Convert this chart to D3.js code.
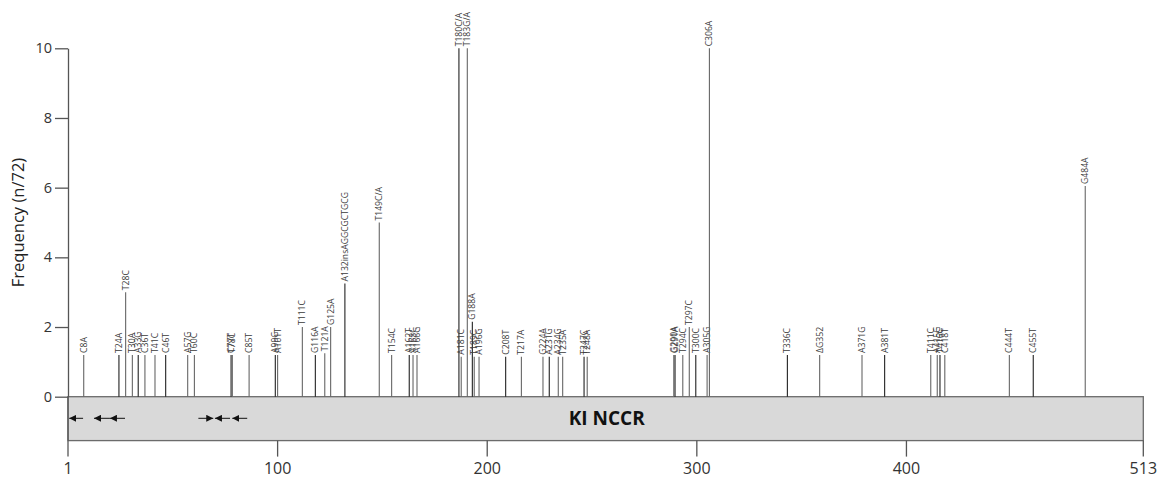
<!DOCTYPE html>
<html>
<head>
<meta charset="utf-8">
<script src="https://cdn.jsdelivr.net/npm/d3@7"></script>
<style>
  body { margin: 0; background: #fff; }
  text { font-family: "Open Sans", sans-serif; }
</style>
</head>
<body>
<div id="chart"></div>
<script>
// mutation labels, their position along the NCCR (as drawn) and frequency
const mutationLabels = ["C8A", "T24A", "T28C", "T30A", "A33G", "C36T", "T41C", "C46T", "A57G", "T60C",
  "C77T", "T78C", "C85T", "A99G", "A101T", "T111C", "G116A", "T121A", "G125A", "A132insAGGCGCTGCG",
  "T149C/A", "T154C", "A162T", "A163C", "A166G", "T180C/A", "A181C", "T183G/A", "G188A", "T189C",
  "A196G", "C208T", "T217A", "G224A", "A231G", "A234G", "T235A", "T247C", "T248A", "G290A",
  "G291A", "T294C", "T297C", "T300C", "A305G", "C306A", "T336C", "\u0394G352", "A371G", "A381T",
  "T411C", "A415G", "T416C", "C418T", "C444T", "C455T", "G484A"];
const mutationPositions = [7.5, 24.3, 27.5, 30.7, 33.5, 36.7, 41.5, 46.6, 57.1, 60.3,
  77.8, 78.4, 86.4, 98.9, 100, 111.8, 118, 122.5, 125.3, 132.1,
  148.5, 154.4, 162.8, 164.6, 166.5, 186.5, 187.6, 190.5, 192.9, 193.8,
  196.1, 208.8, 216.3, 226.6, 229.6, 233.9, 236, 246.2, 247.7, 289,
  289.6, 293.3, 296.4, 299.5, 304.9, 306, 343.2, 358.6, 378.8, 389.6,
  411.6, 414.7, 416, 418.3, 449.1, 460.5, 485.3];
const frequencies = [1.2, 1.2, 3, 1.2, 1.2, 1.2, 1.2, 1.2, 1.2, 1.2,
  1.2, 1.2, 1.2, 1.2, 1.2, 2, 1.2, 1.25, 2, 3.25,
  5, 1.2, 1.2, 1.2, 1.2, 10, 1.15, 10, 2.15, 1.15,
  1.15, 1.15, 1.15, 1.15, 1.15, 1.15, 1.15, 1.15, 1.15, 1.2,
  1.2, 1.2, 2, 1.2, 1.2, 10, 1.2, 1.2, 1.2, 1.2,
  1.2, 1.2, 1.2, 1.2, 1.2, 1.2, 6.05];

// arrows inside the NCCR box (from tail to head)
const arrowFrom = [7.2, 20, 27.2, 62.2, 77.3, 85.5];
const arrowTo = [0.6, 12.4, 20, 69.3, 70.1, 78.4];

const xTicks = [1, 100, 200, 300, 400, 513];
const yTicks = [0, 2, 4, 6, 8, 10];
const boxLabel = "KI NCCR";
const yTitle = "Frequency (n/72)";

const margin = { top: 48.3, right: 19.7, bottom: 38.3, left: 68 },
      width = 1163 - margin.left - margin.right,
      height = 479 - margin.top - margin.bottom;

const svg = d3.select("#chart")
  .append("svg")
  .attr("width", 1163)
  .attr("height", 479)
  .append("g")
  .attr("transform", `translate(${margin.left},${margin.top})`);

const x = d3.scaleLinear().domain([0, 513]).range([0, width]);
const y = d3.scaleLinear().domain([0, 10]).range([348.4, 0]);
const boxBottom = -1.26;

svg.append("defs").append("marker")
  .attr("id", "head")
  .attr("viewBox", "0 0 10 10")
  .attr("refX", 10)
  .attr("refY", 5)
  .attr("markerWidth", 7)
  .attr("markerHeight", 7)
  .attr("markerUnits", "userSpaceOnUse")
  .attr("orient", "auto")
  .append("path")
  .attr("d", "M0,0L10,5L0,10Z")
  .attr("fill", "#111");

// grey NCCR box
svg.append("rect")
  .attr("x", x(0))
  .attr("y", y(0))
  .attr("width", x(513) - x(0))
  .attr("height", y(boxBottom) - y(0))
  .attr("fill", "#d9d9d9")
  .attr("stroke", "#6b6b6b")
  .attr("stroke-width", 1.3);

svg.append("text")
  .attr("x", x(257))
  .attr("y", y(boxBottom / 2))
  .attr("dy", "0.36em")
  .attr("text-anchor", "middle")
  .attr("font-size", 19)
  .attr("font-weight", "bold")
  .attr("fill", "#111")
  .text(boxLabel);

arrowFrom.forEach((a, i) => {
  svg.append("line")
    .attr("x1", x(a))
    .attr("x2", x(arrowTo[i]))
    .attr("y1", y(-0.62))
    .attr("y2", y(-0.62))
    .attr("stroke", "#111")
    .attr("stroke-width", 1)
    .attr("marker-end", "url(#head)");
});

// mutation lines
const bars = svg.selectAll(".mut")
  .data(mutationLabels.map((d, i) => ({ label: d, pos: mutationPositions[i], f: frequencies[i] })))
  .enter().append("g")
  .attr("class", "mut");

bars.append("line")
  .attr("x1", d => x(d.pos))
  .attr("x2", d => x(d.pos))
  .attr("y1", y(0))
  .attr("y2", d => y(d.f))
  .attr("stroke", (d, i) => i % 3 === 1 ? "#222" : "#666")
  .attr("stroke-width", 1.1);

bars.append("text")
  .attr("transform", d => `translate(${x(d.pos)},${y(d.f) - 2}) rotate(-90)`)
  .attr("dy", "0.35em")
  .attr("font-family", "'DejaVu Sans Condensed', 'DejaVu Sans', sans-serif")
  .attr("font-size", 8.6)
  .attr("fill", "#3a3a3a")
  .text(d => d.label);

// y axis
const yAxis = svg.append("g")
  .call(d3.axisLeft(y).tickValues(yTicks).tickSize(13).tickPadding(3).tickSizeOuter(0));
yAxis.select(".domain").attr("stroke", "#555").attr("stroke-width", 1.3);
yAxis.selectAll(".tick line").attr("stroke", "#555").attr("stroke-width", 1.3);
yAxis.selectAll(".tick text")
  .attr("font-family", "'Open Sans', sans-serif")
  .attr("font-size", 14.5)
  .attr("fill", "#333");

// left border line continues down as the "1" tick
svg.append("line")
  .attr("x1", x(0)).attr("x2", x(0))
  .attr("y1", y(0)).attr("y2", y(boxBottom))
  .attr("stroke", "#555").attr("stroke-width", 1.3);

// x axis under the box
const xAxis = svg.append("g")
  .attr("transform", `translate(0,${y(boxBottom)})`)
  .call(d3.axisBottom(x).tickValues(xTicks).tickSize(16).tickPadding(6).tickSizeOuter(0));
xAxis.select(".domain").remove();
xAxis.selectAll(".tick")
  .attr("transform", d => `translate(${d === 1 ? x(0) : x(d)},0)`);
xAxis.selectAll(".tick line").attr("stroke", "#555").attr("stroke-width", 1.3);
xAxis.selectAll(".tick text")
  .attr("font-family", "'Open Sans', sans-serif")
  .attr("font-size", 16)
  .attr("fill", "#333");

svg.append("text")
  .attr("transform", `translate(${-50},${y(5)}) rotate(-90)`)
  .attr("text-anchor", "middle")
  .attr("dy", "0.35em")
  .attr("font-size", 16.5)
  .attr("fill", "#222")
  .text(yTitle);
</script>
</body>
</html>
